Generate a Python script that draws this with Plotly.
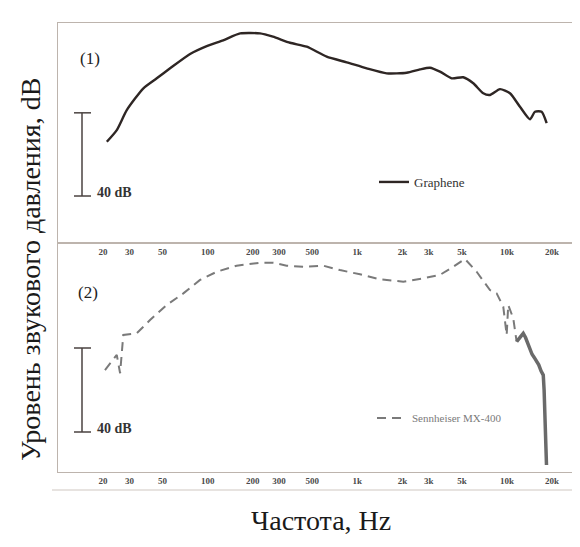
import plotly.graph_objects as go

# ---- data ----
tick_vals = [20, 30, 50, 100, 200, 300, 500, 1000, 2000, 3000, 5000, 10000, 20000]
tick_text = ["20", "30", "50", "100", "200", "300", "500", "1k", "2k", "3k", "5k", "10k", "20k"]

freq_graphene = [21.2, 24.7, 28.8, 37.2, 45.7, 56.1, 76.3, 98.6, 127, 165, 224, 273, 355, 459,
                 624, 849, 1155, 1571, 2136, 2622, 3058, 3566, 4270, 5103, 5952, 6940, 7694,
                 8974, 10466, 12207, 14236, 15378, 17042, 18404]
spl_graphene = [76.1, 81.7, 91.3, 101.8, 106.6, 111.4, 118.3, 122.1, 124.9, 128.2, 128.2, 126.6,
                123.7, 121.8, 117.0, 114.3, 111.4, 109.0, 109.3, 110.9, 111.7, 109.8, 106.6,
                107.1, 104.2, 99.4, 98.6, 101.4, 99.4, 92.9, 86.9, 90.5, 90.5, 85.0]

freq_mx400 = [20.6, 24.7, 26.0, 27.3, 33.6, 41.2, 53.3, 68.8, 88.9, 115, 156, 224, 275, 337, 436,
              592, 766, 1042, 1417, 2028, 2758, 3566, 4375, 5239, 6271, 7694, 8531, 9441, 9949,
              10195, 11011, 11600]
spl_mx400 = [79.5, 86.7, 78.0, 96.2, 97.0, 103.3, 110.5, 116.0, 122.4, 126.3, 129.2, 130.6, 130.6,
             129.2, 128.7, 129.2, 127.1, 125.1, 122.7, 121.6, 123.2, 124.8, 128.7, 132.4, 126.3,
             117.6, 116.0, 109.7, 96.2, 110.5, 104.1, 93.0]
freq_mx400_tail = [11600, 12840, 13300, 13800, 14236, 14700, 15200, 15777, 16300, 16900, 17470,
                   17700, 17930, 18100, 18210, 18360]
spl_mx400_tail = [93.0, 97.0, 95.0, 92.0, 89.9, 87.0, 85.5, 83.5, 82.0, 79.0, 77.1, 70.0, 61.3,
                  50.0, 42.2, 34.3]

scale_bar_db = [50, 90]

# ---- figure ----
# the page body has an 8px margin, so the figure is drawn 8px smaller and coordinates shifted
OFF = 8
W, H = 580 - OFF, 547 - OFF
FRAME = "#bdb4ad"
SERIF = "Liberation Serif, Times New Roman, serif"


def px(x):
    return (x - OFF) / W


def py(y):
    return 1 - (y - OFF) / H


fig = go.Figure()

fig.add_trace(go.Scatter(
    x=freq_graphene, y=spl_graphene, mode="lines", name="Graphene",
    line=dict(color="#2e2624", width=2.4, shape="spline", smoothing=0.6),
    xaxis="x", yaxis="y", legend="legend"))

fig.add_trace(go.Scatter(
    x=freq_mx400, y=spl_mx400, mode="lines", name="Sennheiser MX-400",
    line=dict(color="#7a7a7a", width=2, dash="9px,6px"),
    xaxis="x2", yaxis="y2", legend="legend2"))

fig.add_trace(go.Scatter(
    x=freq_mx400_tail, y=spl_mx400_tail, mode="lines", showlegend=False,
    line=dict(color="#6a6a6a", width=3.5),
    xaxis="x2", yaxis="y2"))

xdom = [px(58), px(573)]
xrng = [1.0, 4.441]

axis_common = dict(
    type="log", range=xrng, domain=xdom, tickvals=tick_vals, ticktext=tick_text,
    ticks="", showgrid=False, zeroline=False, showline=True, mirror=True,
    linecolor=FRAME, linewidth=1.2,
    tickfont=dict(family=SERIF, size=9, color="#4a4a4a", weight="bold"))

fig.update_layout(
    width=W, height=H,
    margin=dict(l=0, r=0, t=0, b=0),
    paper_bgcolor="white", plot_bgcolor="white",
    xaxis=dict(**axis_common, anchor="y"),
    yaxis=dict(domain=[py(243), py(23)], range=[27.4, 133.2], showticklabels=False,
               ticks="", showgrid=False, zeroline=False, showline=True, mirror=True,
               linecolor=FRAME, linewidth=1.2, anchor="x"),
    xaxis2=dict(**axis_common, anchor="y2"),
    yaxis2=dict(domain=[py(472), py(243)], range=[30.95, 140.0], showticklabels=False,
                ticks="", showgrid=False, zeroline=False, showline=True, mirror=True,
                linecolor=FRAME, linewidth=1.2, anchor="x2"),
    legend=dict(x=px(374), y=py(182), xanchor="left", yanchor="middle",
                bgcolor="rgba(0,0,0,0)", font=dict(family=SERIF, size=13, color="#333333")),
    legend2=dict(x=px(372), y=py(418), xanchor="left", yanchor="middle",
                 bgcolor="rgba(0,0,0,0)", font=dict(family=SERIF, size=11, color="#7a7a7a")),
)

shapes = []
annotations = []
for yref in ["y", "y2"]:
    x0, xc, x1 = px(74), px(82), px(91)
    shapes.append(dict(type="line", xref="paper", yref=yref, x0=xc, x1=xc,
                       y0=scale_bar_db[0], y1=scale_bar_db[1], line=dict(color="#4a4240", width=1.5)))
    for v in scale_bar_db:
        shapes.append(dict(type="line", xref="paper", yref=yref, x0=x0, x1=x1,
                           y0=v, y1=v, line=dict(color="#4a4240", width=1.5)))
    annotations.append(dict(text="<b>40 dB</b>", xref="paper", yref=yref, x=px(95),
                            y=scale_bar_db[0] + 1.5, xanchor="left", yanchor="middle",
                            showarrow=False, font=dict(family=SERIF, size=14, color="#333333")))

# panel labels
annotations.append(dict(text="(1)", xref="paper", yref="paper", x=px(78), y=py(59),
                        xanchor="left", yanchor="middle", showarrow=False,
                        font=dict(family=SERIF, size=17, color="#222222")))
annotations.append(dict(text="(2)", xref="paper", yref="paper", x=px(76), y=py(292),
                        xanchor="left", yanchor="middle", showarrow=False,
                        font=dict(family=SERIF, size=17, color="#222222")))
# axis titles
annotations.append(dict(text="Частота, Hz", xref="paper", yref="paper", x=px(321), y=py(520),
                        xanchor="center", yanchor="middle", showarrow=False,
                        font=dict(family=SERIF, size=28, color="#1a1a1a")))
annotations.append(dict(text="Уровень звукового давления, dB", xref="paper", yref="paper",
                        x=px(30), y=py(270), xanchor="center", yanchor="middle", textangle=-90,
                        showarrow=False, font=dict(family=SERIF, size=28, color="#1a1a1a")))

# lower rule under the bottom axis labels
shapes.append(dict(type="line", xref="paper", yref="paper", x0=px(52), x1=px(576),
                   y0=py(490), y1=py(490), line=dict(color="#cfc8c2", width=1.2)))

fig.update_layout(shapes=shapes, annotations=annotations)

fig.write_html("out.html")
